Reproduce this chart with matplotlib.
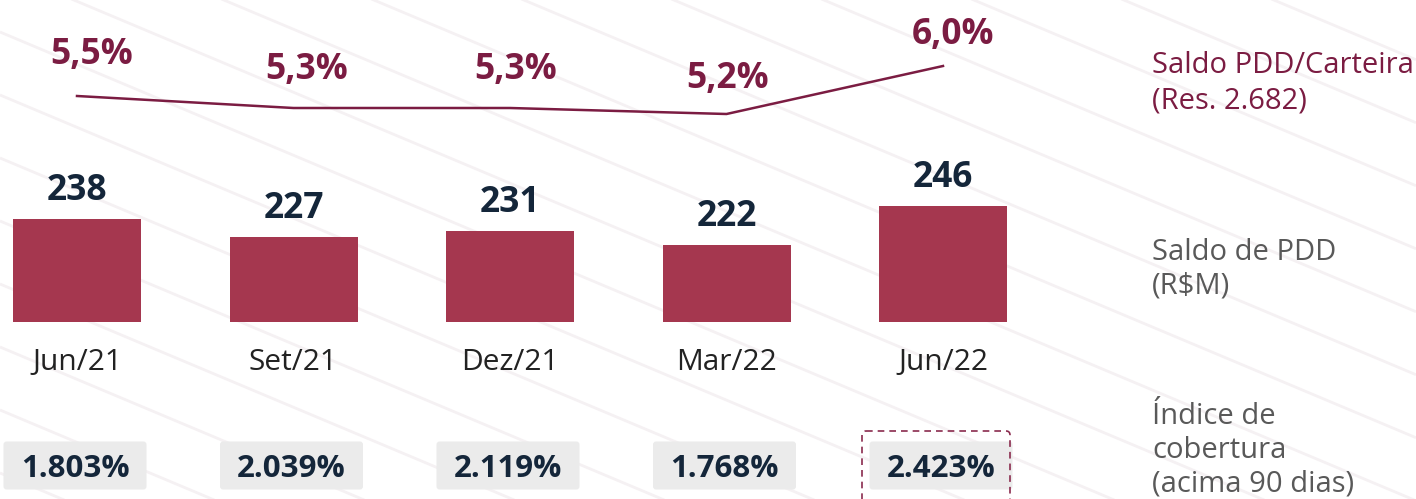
import matplotlib
matplotlib.use("Agg")
import matplotlib.pyplot as plt
from matplotlib.patches import FancyBboxPatch
import numpy as np

plt.rcParams['font.family'] = ['Open Sans', 'DejaVu Sans']

# ---- data ----
categories = ["Jun/21", "Set/21", "Dez/21", "Mar/22", "Jun/22"]
saldo_pdd = [238, 227, 231, 222, 246]            # R$M
pdd_carteira = [5.5, 5.3, 5.3, 5.2, 6.0]         # %
pdd_carteira_labels = ["5,5%", "5,3%", "5,3%", "5,2%", "6,0%"]
cobertura_labels = ["1.803%", "2.039%", "2.119%", "1.768%", "2.423%"]

# ---- colours ----
BAR = "#A5374F"
LINE = "#7B1C42"
NAVY = "#14263A"
GRAY = "#595959"
BOXC = "#EBEBEB"
STRIPE = "#F5F1F3"

W, H = 1416, 499
fig = plt.figure(figsize=(W / 100, H / 100), dpi=100)
fig.patch.set_facecolor("white")

# category x mapping (pixels)
x0, step = 77.0, 216.5
xlim = (-x0 / step, (W - x0) / step)
n = len(categories)
idx = np.arange(n)

# ---- background axes in pixel coords ----
bg = fig.add_axes([0, 0, 1, 1])
bg.set_xlim(0, W)
bg.set_ylim(H, 0)
bg.axis("off")
slope = 0.42
for b in np.arange(32 - 63 * 12, H + 63, 63):
    xs = np.array([0, W])
    bg.plot(xs, b + slope * xs, color=STRIPE, lw=2.0, zorder=0, solid_capstyle="butt")

# ---- bars ----
base_v, px_per = 175.0, 1.63
bar_bottom_px = 322
axb = fig.add_axes([0, (H - bar_bottom_px) / H, 1, bar_bottom_px / H])
axb.set_xlim(*xlim)
axb.set_ylim(base_v, base_v + bar_bottom_px / px_per)
axb.axis("off")
axb.patch.set_alpha(0)
axb.bar(idx, saldo_pdd, width=128 / step, color=BAR, zorder=2)
for i, v in zip(idx, saldo_pdd):
    axb.annotate(str(v), (i, v), xytext=(0, 19), textcoords="offset pixels",
                 ha="center", va="baseline", fontsize=25.5, fontweight="bold",
                 color=NAVY, annotation_clip=False)

# ---- line ----
axl = fig.add_axes([0, 0, 1, 1])
axl.set_xlim(*xlim)
ppu = 60.0
vmid, pmid = 5.46, 98.4
axl.set_ylim(vmid - (H - pmid) / ppu, vmid + pmid / ppu)
axl.axis("off")
axl.patch.set_alpha(0)
axl.plot(idx, pdd_carteira, color=LINE, lw=1.8, zorder=3)
offsets = [(15, 32), (13, 29), (6, 29), (1, 26), (10, 22)]
for i, v, lab, off in zip(idx, pdd_carteira, pdd_carteira_labels, offsets):
    axl.annotate(lab, (i, v), xytext=off, textcoords="offset pixels",
                 ha="center", va="baseline", fontsize=25.5, fontweight="bold",
                 color=LINE, annotation_clip=False)

# ---- category labels ----
for i, c in enumerate(categories):
    bg.text(x0 + i * step, 370, c, ha="center", va="baseline", fontsize=21.5,
            color="#222222")

# ---- coverage boxes ----
for i, lab in enumerate(cobertura_labels):
    cx = x0 + i * step - 2
    bg.add_patch(FancyBboxPatch((cx - 70, 443), 140, 45,
                                boxstyle="round,pad=1.5,rounding_size=3",
                                facecolor=BOXC, edgecolor="none", zorder=2))
    bg.text(cx, 477, lab, ha="center", va="baseline", fontsize=22.5,
            fontweight="bold", color=NAVY, zorder=3)

# highlight dashed box around last
cx = x0 + (n - 1) * step
bg.add_patch(FancyBboxPatch((cx - 81, 431), 148, 90,
                            boxstyle="round,pad=0,rounding_size=4",
                            facecolor="none", edgecolor="#8A2B4E",
                            lw=1.2, ls=(0, (4, 3)), zorder=3))

# ---- right side labels ----
rx = 1152
for txt, y, col in [("Saldo PDD/Carteira", 73, LINE), ("(Res. 2.682)", 108, LINE),
                    ("Saldo de PDD", 260, GRAY), ("(R$M)", 294, GRAY),
                    ("Índice de", 424, GRAY), ("cobertura", 458, GRAY),
                    ("(acima 90 dias)", 491, GRAY)]:
    bg.text(rx, y, txt, ha="left", va="baseline", fontsize=21, color=col)

fig.savefig("out.png", dpi=100)
